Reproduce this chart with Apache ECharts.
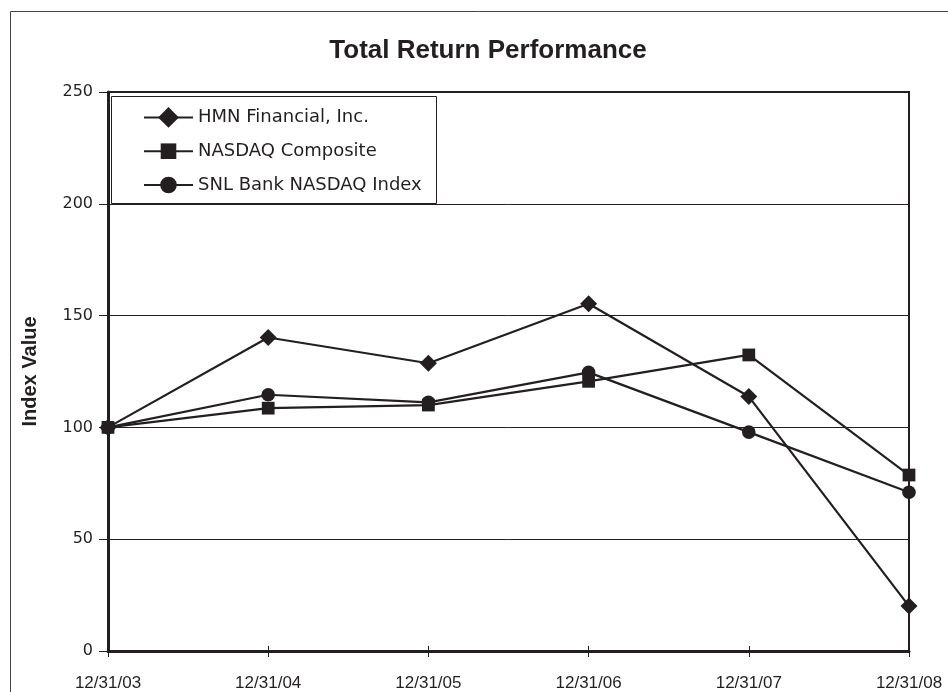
<!DOCTYPE html>
<html><head><meta charset="utf-8">
<script src="https://cdn.jsdelivr.net/npm/echarts@6/dist/echarts.min.js"></script>
<style>html,body{margin:0;padding:0;background:#fff}#c{width:948px;height:692px}</style>
</head><body><div id="c"></div>
<script>
var categories = ['12/31/03','12/31/04','12/31/05','12/31/06','12/31/07','12/31/08'];
var hmn = [100, 140.2, 128.7, 155.3, 113.8, 20.1];
var nasdaq = [100, 108.6, 110.0, 120.6, 132.4, 78.7];
var snl = [100, 114.6, 111.2, 124.6, 97.9, 71.0];
var seriesNames = ['HMN Financial, Inc.', 'NASDAQ Composite', 'SNL Bank NASDAQ Index'];
var yTicks = [0, 50, 100, 150, 200, 250];

var ink = '#231f20';
var symDiamond = 'path://M-1,-1M1,1M0,-1L1,0L0,1L-1,0Z';
var symSquare = 'path://M-1,-1M1,1M-0.75,-0.75L0.75,-0.75L0.75,0.75L-0.75,0.75Z';
var symCircle = 'path://M-1,-1M1,1M-0.8,0A0.8,0.8,0,1,1,0.8,0A0.8,0.8,0,1,1,-0.8,0Z';
var chart = echarts.init(document.getElementById('c'), null, {renderer: 'canvas'});
function mk(name, data, symbol) {
  return {
    name: name, type: 'line', data: data, symbol: symbol, symbolSize: 17,
    lineStyle: {color: ink, width: 2.2}, itemStyle: {color: ink},
    showAllSymbol: true, animation: false, z: 5, clip: false
  };
}
chart.setOption({
  animation: false,
  backgroundColor: '#fff',
  title: {
    text: 'Total Return Performance', left: 483, top: 33, textAlign: 'center',
    textStyle: {fontFamily: 'Liberation Sans, Arial', fontSize: 26, fontWeight: 'bold', color: ink}
  },
  graphic: [
    {type: 'rect', shape: {x: 10.5, y: 11.5, width: 1000, height: 1000}, style: {fill: 'none', stroke: '#444', lineWidth: 1}, z: 0},
    {type: 'rect', shape: {x: 111.5, y: 96.5, width: 325, height: 107}, style: {fill: '#fff', stroke: ink, lineWidth: 1}, z: 10}
  ],
  legend: {
    orient: 'vertical', left: 138, top: 102, itemGap: 13, itemWidth: 49, itemHeight: 26,
    data: seriesNames, z: 20,
    textStyle: {fontFamily: 'DejaVu Sans', fontSize: 18, color: ink},
    itemStyle: {color: ink}
  },
  grid: {left: 108, right: 39, top: 92, bottom: 41, show: true, borderColor: ink, borderWidth: 2, containLabel: false},
  xAxis: [{
    type: 'category', data: categories, boundaryGap: false,
    axisLine: {lineStyle: {color: ink, width: 3}},
    axisTick: {show: true, length: 6, lineStyle: {color: ink, width: 1}},
    axisLabel: {margin: 23.5, fontFamily: 'Liberation Sans, Arial', fontSize: 17, color: ink},
    splitLine: {show: false}
  }, {
    type: 'category', data: categories, boundaryGap: false, position: 'bottom', offset: 0,
    axisLine: {show: false},
    axisTick: {show: true, inside: true, length: 5, lineStyle: {color: ink, width: 1}},
    axisLabel: {show: false}, splitLine: {show: false}
  }],
  yAxis: {
    type: 'value', min: yTicks[0], max: yTicks[yTicks.length-1], interval: 50,
    name: 'Index Value', nameLocation: 'middle', nameGap: 68, nameRotate: 90,
    nameTextStyle: {fontFamily: 'Liberation Sans, Arial', fontSize: 20, fontWeight: 'bold', color: ink},
    axisLine: {show: true, lineStyle: {color: ink, width: 3}},
    axisTick: {show: true, length: 9, lineStyle: {color: ink, width: 1}},
    axisLabel: {margin: 15, fontFamily: 'DejaVu Sans', fontSize: 16, color: ink},
    splitLine: {show: true, lineStyle: {color: ink, width: 1}}
  },
  series: [
    mk(seriesNames[0], hmn, symDiamond),
    mk(seriesNames[1], nasdaq, symSquare),
    mk(seriesNames[2], snl, symCircle)
  ]
});
</script></body></html>
